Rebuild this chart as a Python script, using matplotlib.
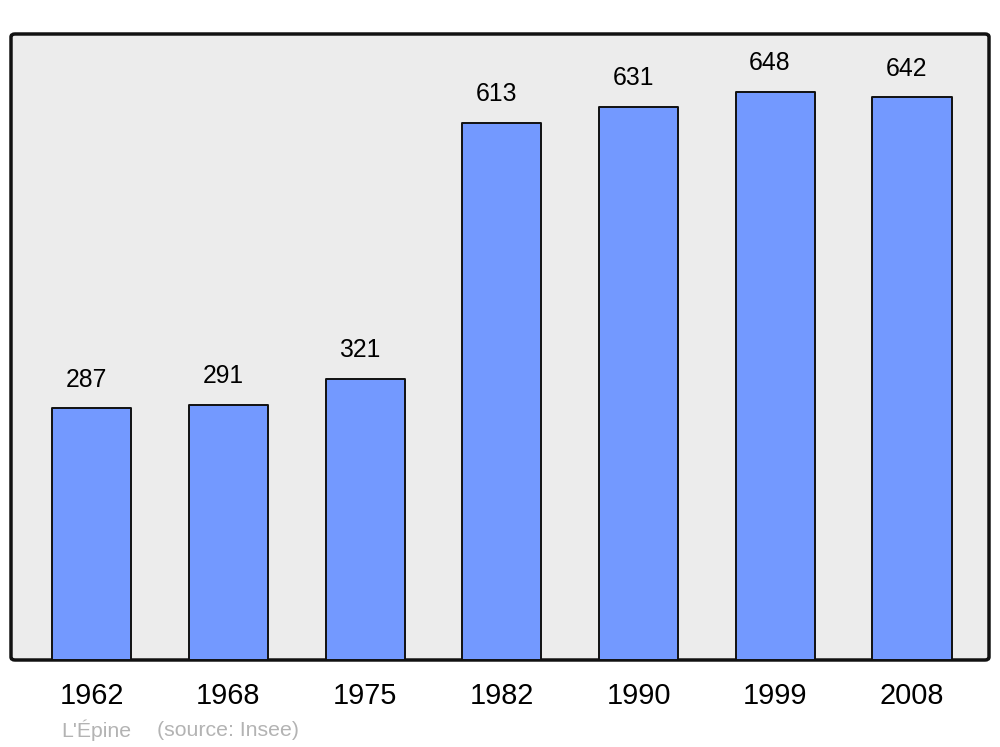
import matplotlib.pyplot as plt
from matplotlib.patches import FancyBboxPatch

years = ["1962", "1968", "1975", "1982", "1990", "1999", "2008"]
population = [287, 291, 321, 613, 631, 648, 642]
title = "L'Épine"
source = "(source: Insee)"

plt.rcParams["font.family"] = ["Liberation Sans", "DejaVu Sans"]

fig = plt.figure(figsize=(10, 7.47), dpi=100)
left, right = 11 / 1000, 989 / 1000
bottom, top = 1 - 660 / 747, 1 - 34 / 747
ax = fig.add_axes([left, bottom, right - left, top - bottom])
ax.set_facecolor("none")
ax.set_zorder(2)

# rounded frame behind the axes
frame = FancyBboxPatch(
    (left, bottom), right - left, top - bottom,
    boxstyle="round,pad=0,rounding_size=0.004",
    transform=fig.transFigure, facecolor="#ececec", edgecolor="#111111",
    linewidth=2.5, zorder=-1,
)
fig.patches.append(frame)

x = list(range(len(years)))
bars = ax.bar(x, population, width=0.578, color="#7399ff", edgecolor="#111111",
              linewidth=1.4, joinstyle="round", zorder=2)

for xi, v in zip(x, population):
    ax.annotate(str(v), (xi - 0.04, v), xytext=(0, 20.5), textcoords="offset points",
                ha="center", va="center", fontsize=17.8)

ax.set_xlim(-0.589, 6.563)
ax.set_ylim(0, 714)
for s in ax.spines.values():
    s.set_visible(False)
ax.set_yticks([])
ax.set_xticks(x)
ax.set_xticklabels(years, fontsize=20.8)
ax.tick_params(axis="x", length=0, pad=16)

fig.text(61 / 1000, 1 - 730 / 747, title, color="#b3b3b3", fontsize=15.3, va="center")
fig.text(157 / 1000, 1 - 730 / 747, source, color="#b3b3b3", fontsize=15.3, va="center")

fig.savefig("out.png", dpi=100)
